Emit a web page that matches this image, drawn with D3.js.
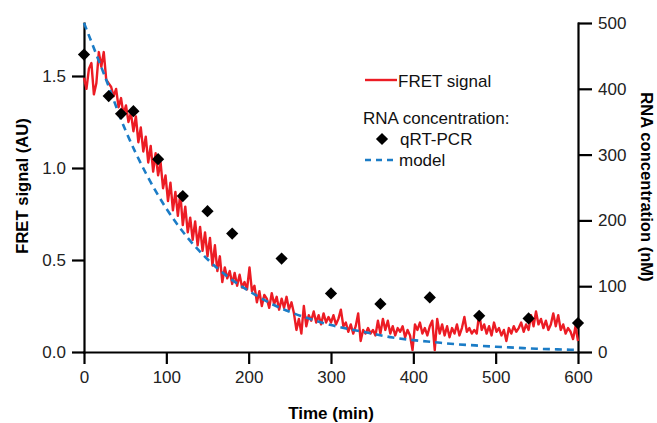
<!DOCTYPE html>
<html>
<head>
<meta charset="utf-8">
<script src="https://cdn.jsdelivr.net/npm/d3@7"></script>
<style>
  body { margin: 0; background: #fff; }
  svg { font-family: "Liberation Sans", Arial, sans-serif; }
  .axis path, .axis line { stroke: #000; stroke-width: 2.2px; }
  .axis text { font-size: 17px; fill: #222; }
  .title { font-size: 16.6px; font-weight: bold; fill: #000; }
  .legend text { font-size: 17px; fill: #111; }
</style>
</head>
<body>
<svg id="chart" width="657" height="423"></svg>
<script>
// FRET signal (AU), sampled every 3 min from 0 to 600
const fretTimes = d3.range(0, 601, 3)
const fretSignal = [
  1.49, 1.43, 1.54, 1.57, 1.40, 1.46, 1.63, 1.55, 1.63, 1.48,
  1.46, 1.44, 1.39, 1.43, 1.33, 1.38, 1.29, 1.34, 1.25, 1.30,
  1.20, 1.28, 1.14, 1.22, 1.09, 1.17, 1.03, 1.12, 0.98, 1.08,
  0.96, 1.03, 0.89, 0.96, 0.82, 0.92, 0.77, 0.87, 0.74, 0.86,
  0.69, 0.79, 0.65, 0.73, 0.61, 0.71, 0.58, 0.68, 0.55, 0.65,
  0.52, 0.62, 0.47, 0.58, 0.44, 0.52, 0.38, 0.46, 0.40, 0.44,
  0.37, 0.43, 0.36, 0.42, 0.35, 0.38, 0.34, 0.46, 0.33, 0.36,
  0.27, 0.33, 0.25, 0.31, 0.29, 0.24, 0.32, 0.26, 0.30, 0.23,
  0.29, 0.24, 0.30, 0.23, 0.27, 0.21, 0.12, 0.18, 0.10, 0.25,
  0.14, 0.20, 0.17, 0.22, 0.16, 0.20, 0.15, 0.21, 0.16, 0.19,
  0.16, 0.20, 0.15, 0.18, 0.23, 0.14, 0.16, 0.11, 0.15, 0.10,
  0.14, 0.21, 0.06, 0.12, 0.10, 0.13, 0.10, 0.12, 0.09, 0.17,
  0.10, 0.18, 0.12, 0.17, 0.10, 0.14, 0.09, 0.13, 0.11, 0.14,
  0.08, 0.12, 0.09, 0.01, 0.15, 0.12, 0.16, 0.10, 0.13, 0.09,
  0.14, 0.17, 0.01, 0.18, 0.10, 0.15, 0.09, 0.14, 0.08, 0.13,
  0.10, 0.15, 0.09, 0.13, 0.19, 0.11, 0.13, 0.10, 0.12, 0.10,
  0.21, 0.12, 0.15, 0.10, 0.14, 0.09, 0.16, 0.11, 0.13, 0.09,
  0.12, 0.06, 0.13, 0.10, 0.14, 0.11, 0.13, 0.16, 0.11, 0.15,
  0.12, 0.20, 0.14, 0.22, 0.15, 0.18, 0.13, 0.17, 0.12, 0.15,
  0.21, 0.14, 0.20, 0.12, 0.15, 0.10, 0.13, 0.11, 0.07, 0.14,
  0.06
]

// qRT-PCR RNA concentration (nM)
const pcrTimes = [0, 30, 45, 60, 90, 120, 150, 180, 240, 300, 360, 420, 480, 540, 600]
const pcrValues = [452, 389, 362, 366, 293, 237, 214, 180, 142, 89, 73, 83, 55, 51, 44]

// model RNA concentration (nM)
const modelTimes = [0, 25, 50, 75, 100, 125, 150, 175, 200, 225, 250, 275, 300,
                    325, 350, 375, 400, 425, 450, 475, 500, 525, 550, 575, 600]
const modelValues = [500, 420, 338, 272, 218, 175, 141, 114, 93, 75, 61, 50, 41,
                     34, 28, 22, 18, 15, 12, 10, 8, 6.5, 5, 4, 3]

const xTicks = [0, 100, 200, 300, 400, 500, 600]
const leftTicks = [0, 0.5, 1.0, 1.5]
const rightTicks = [0, 100, 200, 300, 400, 500]

const svg = d3.select("#chart")

let x = d3.scaleLinear().domain([0, 600]).range([84, 578])
let yLeft = d3.scaleLinear().domain([0, 1.788]).range([352, 23])
let yRight = d3.scaleLinear().domain([0, 500]).range([352, 23])

// axes
svg.append("g")
   .attr("class", "axis")
   .attr("transform", "translate(0,352)")
   .call(d3.axisBottom(x).tickValues(xTicks).tickSize(12).tickSizeOuter(0).tickPadding(7))

svg.append("g")
   .attr("class", "axis")
   .attr("transform", "translate(84,0)")
   .call(d3.axisLeft(yLeft).tickValues(leftTicks).tickFormat(d3.format(".1f")).tickSize(12).tickSizeOuter(0).tickPadding(6))

svg.append("g")
   .attr("class", "axis")
   .attr("transform", "translate(578,0)")
   .call(d3.axisRight(yRight).tickValues(rightTicks).tickSize(14).tickSizeOuter(0).tickPadding(6))

svg.selectAll(".axis .domain").attr("stroke-linecap", "square")

// FRET signal
let fretLine = d3.line()
                 .x((d, i) => x(fretTimes[i]))
                 .y(d => yLeft(d))

svg.append("path")
   .datum(fretSignal)
   .attr("d", fretLine)
   .attr("fill", "none")
   .attr("stroke", "#ec1c24")
   .attr("stroke-width", 2.4)
   .attr("stroke-linejoin", "round")

// model
let modelLine = d3.line()
                  .x((d, i) => x(modelTimes[i]))
                  .y(d => yRight(d))
                  .curve(d3.curveMonotoneX)

svg.append("path")
   .datum(modelValues)
   .attr("d", modelLine)
   .attr("fill", "none")
   .attr("stroke", "#1b7cc6")
   .attr("stroke-width", 2.6)
   .attr("stroke-dasharray", "7,5")

// qRT-PCR diamonds
let diamond = d3.symbol().type(d3.symbolDiamond2).size(95)
svg.append("g")
   .selectAll("path")
   .data(pcrValues)
   .enter()
   .append("path")
     .attr("d", diamond)
     .attr("transform", (d, i) => "translate(" + x(pcrTimes[i]) + "," + yRight(d) + ")")
     .attr("fill", "#000")

// titles
svg.append("text")
   .attr("class", "title")
   .attr("text-anchor", "middle")
   .attr("transform", "translate(28,186) rotate(-90)")
   .text("FRET signal (AU)")

svg.append("text")
   .attr("class", "title")
   .attr("text-anchor", "middle")
   .attr("transform", "translate(641,187) rotate(90)")
   .text("RNA concentration (nM)")

svg.append("text")
   .attr("class", "title")
   .attr("text-anchor", "middle")
   .style("font-size", "17px")
   .attr("x", 331)
   .attr("y", 419)
   .text("Time (min)")

// legend
let legend = svg.append("g").attr("class", "legend")
legend.append("line")
      .attr("x1", 365).attr("x2", 397).attr("y1", 80).attr("y2", 80)
      .attr("stroke", "#ec1c24").attr("stroke-width", 2.4)
legend.append("text").attr("x", 398).attr("y", 87).text("FRET signal")
legend.append("text").attr("x", 363).attr("y", 124).text("RNA concentration:")
legend.append("path")
      .attr("d", diamond)
      .attr("transform", "translate(382,139)")
      .attr("fill", "#000")
legend.append("text").attr("x", 400).attr("y", 145).text("qRT-PCR")
legend.append("line")
      .attr("x1", 365).attr("x2", 397).attr("y1", 160).attr("y2", 160)
      .attr("stroke", "#1b7cc6").attr("stroke-width", 2.6)
      .attr("stroke-dasharray", "6,5")
legend.append("text").attr("x", 399).attr("y", 166).text("model")
</script>
</body>
</html>
